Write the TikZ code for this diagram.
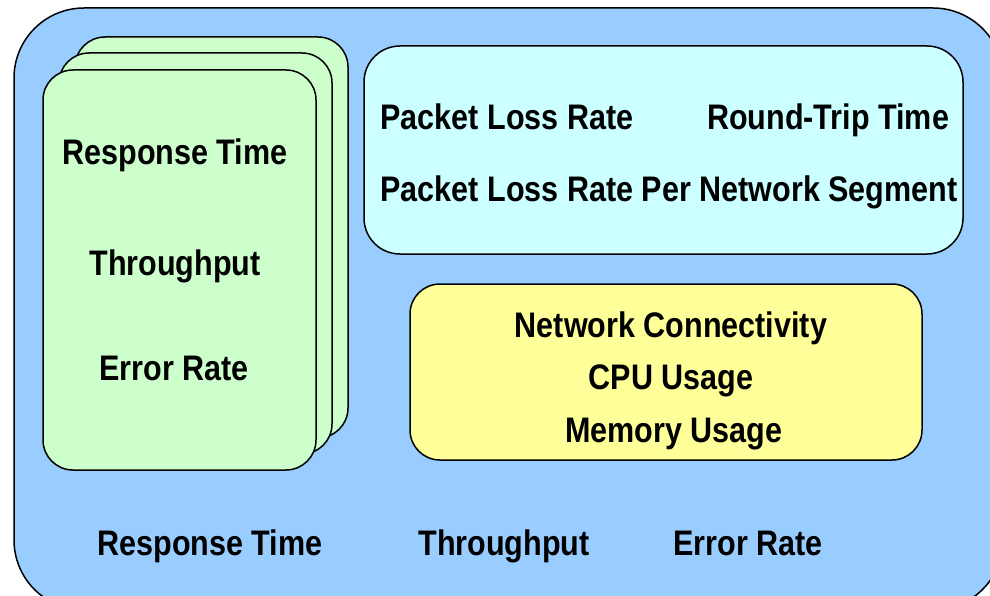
\documentclass[tikz,border=0pt]{standalone}
\usepackage{fontspec}
\setmainfont{Liberation Sans}[FakeStretch=0.86]
\definecolor{panelblue}{HTML}{99CCFF}
\definecolor{cardgreen}{HTML}{CCFFCC}
\definecolor{boxcyan}{HTML}{CCFFFF}
\definecolor{boxyellow}{HTML}{FFFF99}
\tikzset{
  frame/.style={draw=black,line width=1.5pt},
  metric/.style={anchor=base,inner sep=0pt,font=\fontsize{35.5}{40}\selectfont\bfseries}
}
\begin{document}
\begin{tikzpicture}[x=1pt,y=-1pt,line join=round]
      \useasboundingbox (0,0) rectangle (990,596);
      \clip (0,0) rectangle (990,596);
      % outer panel
      \draw[frame,fill=panelblue,rounded corners=70pt] (14,8) rectangle (1003,610);
      % stacked cards
      \draw[frame,fill=cardgreen,rounded corners=30pt] (75,37) rectangle (348,438);
      \draw[frame,fill=cardgreen,rounded corners=30pt] (59,53) rectangle (332,454);
      \draw[frame,fill=cardgreen,rounded corners=30pt] (43,70) rectangle (316,470);
      % network and host boxes
      \draw[frame,fill=boxcyan,rounded corners=36pt] (364,46) rectangle (963,254);
      \draw[frame,fill=boxyellow,rounded corners=30pt] (410,284) rectangle (922,460);

      \node[metric] (cardresp) at (175,165) {Response Time};
      \node[metric] (cardthru) at (175,275) {Throughput};
      \node[metric] (carderr)  at (174,380) {Error Rate};

      \node[metric] (plr)  at (507,130) {Packet Loss Rate};
      \node[metric] (rtt)  at (828,130) {Round-Trip Time};
      \node[metric] (plrs) at (669,202) {Packet Loss Rate Per Network Segment};

      \node[metric] (conn) at (671,337) {Network Connectivity};
      \node[metric] (cpu)  at (671,389) {CPU Usage};
      \node[metric] (mem)  at (674,442) {Memory Usage};

      \node[metric] (resp) at (210,555) {Response Time};
      \node[metric] (thru) at (504,555) {Throughput};
      \node[metric] (err)  at (748,555) {Error Rate};
\end{tikzpicture}
\end{document}
